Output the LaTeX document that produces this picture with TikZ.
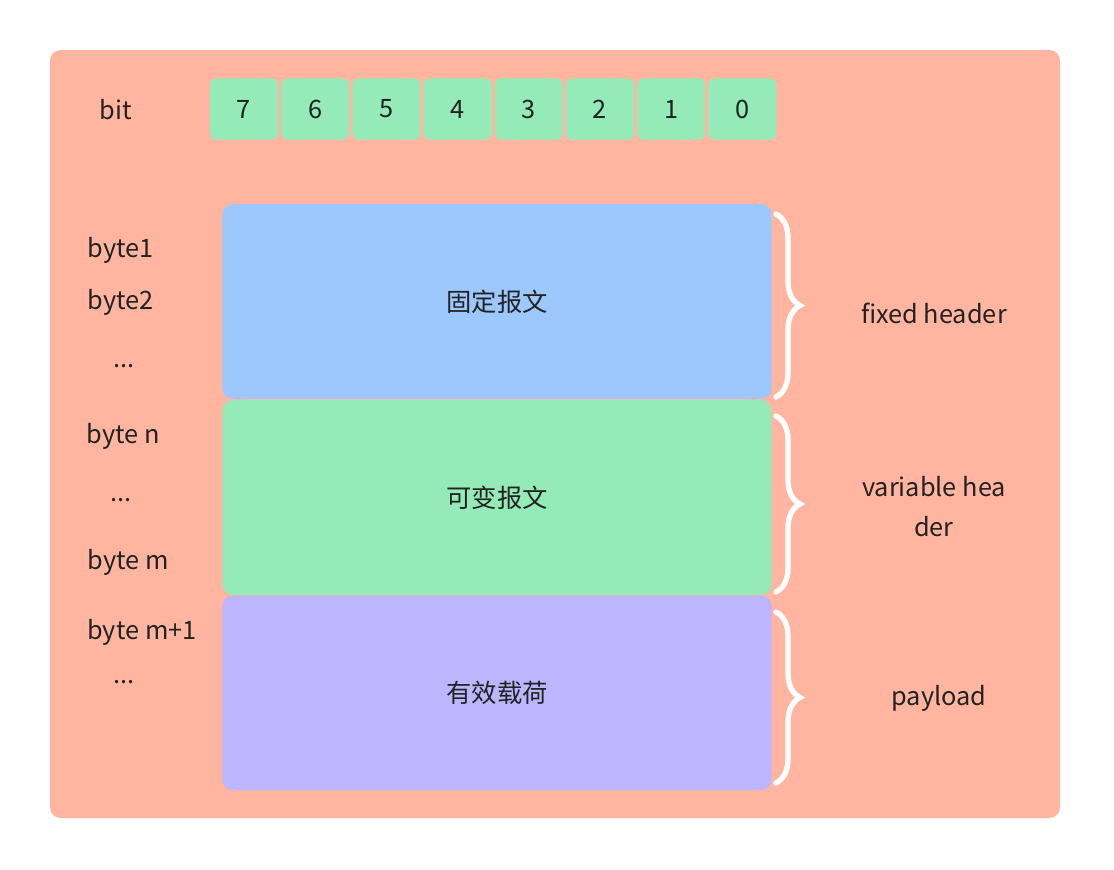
\documentclass[tikz,border=0pt]{standalone}
\usepackage{fontspec}
\setmainfont{Noto Sans CJK SC}
\usetikzlibrary{decorations.pathreplacing}
\definecolor{bgc}{HTML}{FFB5A0}
\definecolor{grn}{HTML}{95EBB8}
\definecolor{blu}{HTML}{9DC8FE}
\definecolor{pur}{HTML}{BDB6FE}
\definecolor{txt}{HTML}{222222}
\begin{document}
\begin{tikzpicture}[x=0.75pt,y=-0.75pt,
  lbl/.style={font=\fontsize{19}{22}\selectfont,text=txt},
  bitbox/.style={fill=grn,rounded corners=5pt,minimum width=51pt,minimum height=46pt,inner sep=0pt,lbl},
  blockbox/.style={rounded corners=8pt,minimum width=412pt,minimum height=146pt,inner sep=0pt,lbl},
  brc/.style={draw=white,line width=4pt,line cap=round,decorate,decoration={brace,amplitude=18pt,raise=0pt}}]
\useasboundingbox (0,0) rectangle (1114,869);
\fill[bgc,rounded corners=8pt] (50,50) rectangle (1060,818);
\node[lbl] (bit) at (116,110) {bit};
\foreach \b [count=\i from 0] in {7,6,5,4,3,2,1,0}{
  \node[bitbox] (b\b) at (244+\i*71.2,109) {\b};
}
\node[blockbox,fill=blu] (fh) at (497,301.5) {固定报文};
\node[blockbox,fill=grn] (vh) at (497,497.5) {可变报文};
\node[blockbox,fill=pur] (pl) at (497,693) {有效载荷};
\node[lbl] (l1) at (121,250) {byte1};
\node[lbl] (l2) at (121,302) {byte2};
\node[lbl] (l3) at (124,366) {...};
\node[lbl] (l4) at (123,436) {byte n};
\node[lbl] (l5) at (121,500) {...};
\node[lbl] (l6) at (128,562) {byte m};
\node[lbl] (l7) at (142,632) {byte m+1};
\node[lbl] (l8) at (124,682) {...};
\coordinate (a1) at (776,214); \coordinate (a2) at (776,397);
\coordinate (a3) at (776,416); \coordinate (a4) at (776,592);
\coordinate (a5) at (776,612); \coordinate (a6) at (776,783);
\draw[brc] (a1) -- (a2);
\draw[brc] (a3) -- (a4);
\draw[brc] (a5) -- (a6);
\node[lbl] (t1) at (934,313) {fixed header};
\node[lbl,align=center] (t2) at (934,507) {variable hea\\[8pt]der};
\node[lbl] (t3) at (939,698) {payload};
\end{tikzpicture}
\end{document}
